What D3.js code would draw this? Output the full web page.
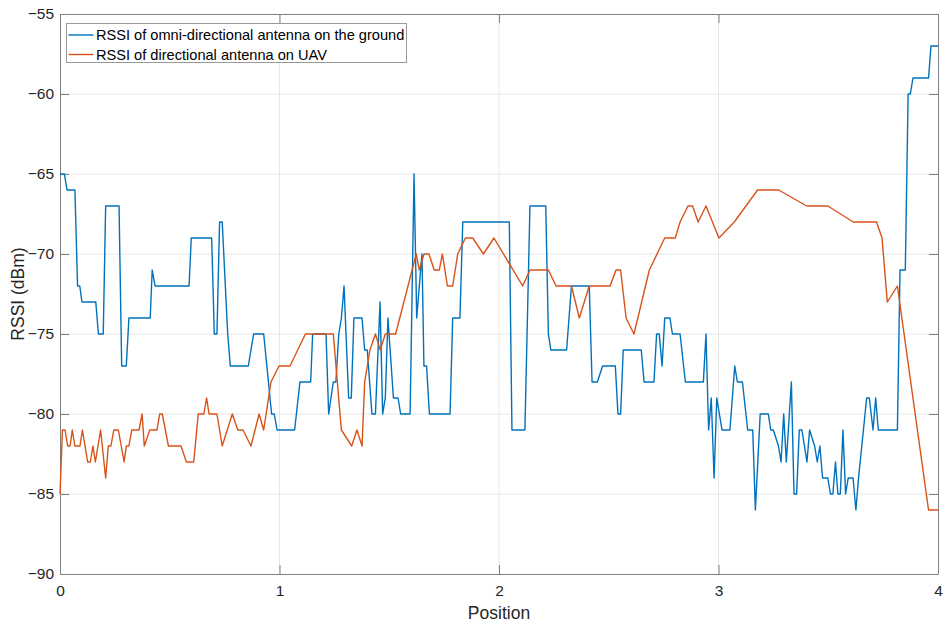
<!DOCTYPE html>
<html>
<head>
<meta charset="utf-8">
<script src="https://cdn.jsdelivr.net/npm/d3@7"></script>
<style>
  body { margin: 0; background: #fff; }
  text { font-family: "Liberation Sans", Arial, Helvetica, sans-serif; }
</style>
</head>
<body>
<div id="chart"></div>
<script>
// series: [position, RSSI dBm]
const omniGround = [
  [0,-65],[0.02,-65],[0.032,-66],[0.068,-66],[0.08,-72],[0.09,-72],[0.10,-73],[0.163,-73],
  [0.175,-75],[0.197,-75],[0.208,-67],[0.269,-67],[0.281,-77],[0.302,-77],[0.314,-74],[0.411,-74],
  [0.42,-71],[0.433,-72],[0.588,-72],[0.598,-69],[0.691,-69],[0.703,-75],[0.715,-75],[0.727,-68],
  [0.739,-68],[0.764,-75],[0.776,-77],[0.858,-77],[0.882,-75],[0.928,-75],[0.964,-80],[0.976,-80],
  [0.989,-81],[1.069,-81],[1.093,-78],[1.142,-78],[1.151,-75],[1.212,-75],[1.224,-80],[1.245,-78],
  [1.257,-78],[1.27,-75],[1.282,-74],[1.294,-72],[1.315,-79],[1.327,-79],[1.339,-74],[1.376,-74],
  [1.388,-76],[1.4,-76],[1.421,-80],[1.437,-80],[1.458,-73],[1.47,-80],[1.482,-79],[1.494,-74],
  [1.519,-79],[1.54,-79],[1.552,-80],[1.595,-80],[1.613,-65],[1.625,-74],[1.649,-70],[1.658,-77],
  [1.67,-77],[1.683,-80],[1.777,-80],[1.789,-74],[1.822,-74],[1.835,-68],[2.047,-68],[2.059,-81],
  [2.118,-81],[2.141,-67],[2.213,-67],[2.225,-75],[2.236,-76],[2.308,-76],[2.33,-72],[2.411,-72],
  [2.424,-78],[2.448,-78],[2.472,-77],[2.53,-77],[2.542,-80],[2.554,-80],[2.566,-76],[2.648,-76],
  [2.661,-78],[2.706,-78],[2.718,-75],[2.73,-75],[2.743,-77],[2.755,-74],[2.779,-74],[2.79,-75],
  [2.825,-75],[2.849,-78],[2.931,-78],[2.943,-75],[2.955,-81],[2.967,-79],[2.98,-84],[2.992,-79],
  [3.016,-81],[3.052,-81],[3.074,-77],[3.086,-78],[3.109,-78],[3.133,-81],[3.156,-81],[3.168,-86],
  [3.19,-80],[3.227,-80],[3.238,-81],[3.25,-81],[3.273,-82],[3.285,-83],[3.297,-80],[3.309,-83],
  [3.332,-78],[3.344,-85],[3.356,-85],[3.368,-81],[3.38,-81],[3.403,-83],[3.415,-81],[3.438,-82],
  [3.45,-83],[3.462,-82],[3.474,-84],[3.498,-84],[3.51,-85],[3.521,-85],[3.533,-83],[3.544,-85],
  [3.555,-85],[3.567,-81],[3.579,-85],[3.591,-84],[3.613,-84],[3.626,-86],[3.638,-84],[3.675,-79],
  [3.687,-79],[3.704,-81],[3.716,-79],[3.728,-81],[3.815,-81],[3.827,-71],[3.851,-71],[3.864,-60],
  [3.874,-60],[3.886,-59],[3.957,-59],[3.968,-57],[4,-57]
];

const directionalUav = [
  [0,-85],[0.011,-81],[0.023,-81],[0.035,-82],[0.046,-82],[0.056,-81],[0.068,-82],[0.091,-82],
  [0.102,-81],[0.126,-83],[0.138,-83],[0.150,-82],[0.161,-83],[0.185,-81],[0.208,-84],[0.220,-82],
  [0.232,-82],[0.245,-81],[0.266,-81],[0.292,-83],[0.302,-82],[0.314,-82],[0.327,-81],[0.360,-81],
  [0.374,-80],[0.384,-82],[0.409,-81],[0.442,-81],[0.454,-80],[0.466,-80],[0.494,-82],[0.551,-82],
  [0.576,-83],[0.609,-83],[0.630,-80],[0.655,-80],[0.668,-79],[0.679,-80],[0.715,-80],[0.739,-82],
  [0.785,-80],[0.81,-81],[0.834,-81],[0.870,-82],[0.907,-80],[0.928,-81],[0.961,-78],[0.998,-77],
  [1.048,-77],[1.118,-75],[1.245,-75],[1.282,-81],[1.329,-82],[1.353,-81],[1.376,-82],[1.388,-78],
  [1.412,-76],[1.437,-75],[1.459,-76],[1.482,-75],[1.529,-75],[1.623,-70],[1.637,-71],[1.658,-70],
  [1.681,-70],[1.705,-71],[1.728,-71],[1.742,-70],[1.765,-72],[1.789,-72],[1.812,-70],[1.847,-69],
  [1.880,-69],[1.929,-70],[1.977,-69],[2.108,-72],[2.141,-71],[2.225,-71],[2.26,-72],[2.33,-72],
  [2.366,-74],[2.411,-72],[2.506,-72],[2.533,-71],[2.554,-71],[2.579,-74],[2.615,-75],[2.685,-71],
  [2.755,-69],[2.803,-69],[2.825,-68],[2.861,-67],[2.882,-67],[2.907,-68],[2.943,-67],[3.002,-69],
  [3.072,-68],[3.178,-66],[3.274,-66],[3.402,-67],[3.498,-67],[3.614,-68],[3.720,-68],[3.745,-69],
  [3.769,-73],[3.815,-72],[3.957,-86],[4,-86]
];

const xTicks = [0, 1, 2, 3, 4];
const yTicks = [-90, -85, -80, -75, -70, -65, -60, -55];
const seriesNames = ["RSSI of omni-directional antenna on the ground", "RSSI of directional antenna on UAV"];
const seriesColors = ["#0072BD", "#D95319"];

var margin = { top: 14, right: 8, bottom: 54, left: 60 },
  width = 946 - margin.left - margin.right,
  height = 628 - margin.top - margin.bottom;

let svg = d3.select("#chart")
  .append("svg")
  .attr("width", 946)
  .attr("height", 628)
  .append("g")
  .attr("transform", "translate(" + margin.left + "," + margin.top + ")");

let x = d3.scaleLinear().domain([0, 4]).range([0, width]);
let y = d3.scaleLinear().domain([-90, -55]).range([height, 0]);

// grid
svg.append("g")
  .selectAll("line")
  .data(xTicks.slice(1, -1))
  .join("line")
  .attr("x1", d => x(d)).attr("x2", d => x(d))
  .attr("y1", 0).attr("y2", height)
  .attr("stroke", "#e6e6e6");

svg.append("g")
  .selectAll("line")
  .data(yTicks.slice(1, -1))
  .join("line")
  .attr("x1", 0).attr("x2", width)
  .attr("y1", d => y(d)).attr("y2", d => y(d))
  .attr("stroke", "#e6e6e6");

// axes with inward ticks, box all round
function styleAxis(g) {
  g.select(".domain").attr("stroke", "#808080");
  g.selectAll(".tick line").attr("stroke", "#808080");
  g.selectAll(".tick text")
    .attr("fill", "#262626")
    .style("font-size", "15.5px")
    .style("font-family", "'Liberation Sans', Arial, sans-serif");
}

svg.append("g")
  .attr("transform", "translate(0," + height + ")")
  .call(d3.axisBottom(x).tickValues(xTicks).tickFormat(d3.format("d")).tickSizeInner(-9).tickSizeOuter(0).tickPadding(11))
  .call(styleAxis);

svg.append("g")
  .call(d3.axisTop(x).tickValues(xTicks).tickSizeInner(-9).tickSizeOuter(0).tickFormat(""))
  .call(styleAxis);

svg.append("g")
  .call(d3.axisLeft(y).tickValues(yTicks).tickFormat(d3.format("d")).tickSizeInner(-9).tickSizeOuter(0).tickPadding(6))
  .call(styleAxis);

svg.append("g")
  .attr("transform", "translate(" + width + ",0)")
  .call(d3.axisRight(y).tickValues(yTicks).tickSizeInner(-9).tickSizeOuter(0).tickFormat(""))
  .call(styleAxis);

// lines
let line = d3.line().x(d => x(d[0])).y(d => y(d[1]));

[omniGround, directionalUav].forEach((s, i) => {
  svg.append("path")
    .datum(s)
    .attr("fill", "none")
    .attr("stroke", seriesColors[i])
    .attr("stroke-width", 1.4)
    .attr("stroke-linejoin", "round")
    .attr("d", line);
});

// axis labels
svg.append("text")
  .attr("x", width / 2)
  .attr("y", height + 45)
  .attr("text-anchor", "middle")
  .attr("fill", "#262626")
  .style("font-size", "17.5px")
  .text("Position");

svg.append("text")
  .attr("transform", "translate(" + (-36) + "," + (height / 2) + ") rotate(-90)")
  .attr("text-anchor", "middle")
  .attr("fill", "#262626")
  .style("font-size", "17.5px")
  .text("RSSI (dBm)");

// legend
let legend = svg.append("g").attr("transform", "translate(6.5,9.5)");
legend.append("rect")
  .attr("width", 340)
  .attr("height", 39)
  .attr("fill", "#fff")
  .attr("stroke", "#9a9a9a");

seriesNames.forEach((name, i) => {
  let row = legend.append("g").attr("transform", "translate(0," + (11.5 + i * 19.5) + ")");
  row.append("line")
    .attr("x1", 2).attr("x2", 27)
    .attr("stroke", seriesColors[i])
    .attr("stroke-width", 1.4);
  row.append("text")
    .attr("x", 29.5)
    .attr("dy", "0.35em")
    .attr("fill", "#000")
    .style("font-size", "14.6px")
    .text(name);
});
</script>
</body>
</html>
